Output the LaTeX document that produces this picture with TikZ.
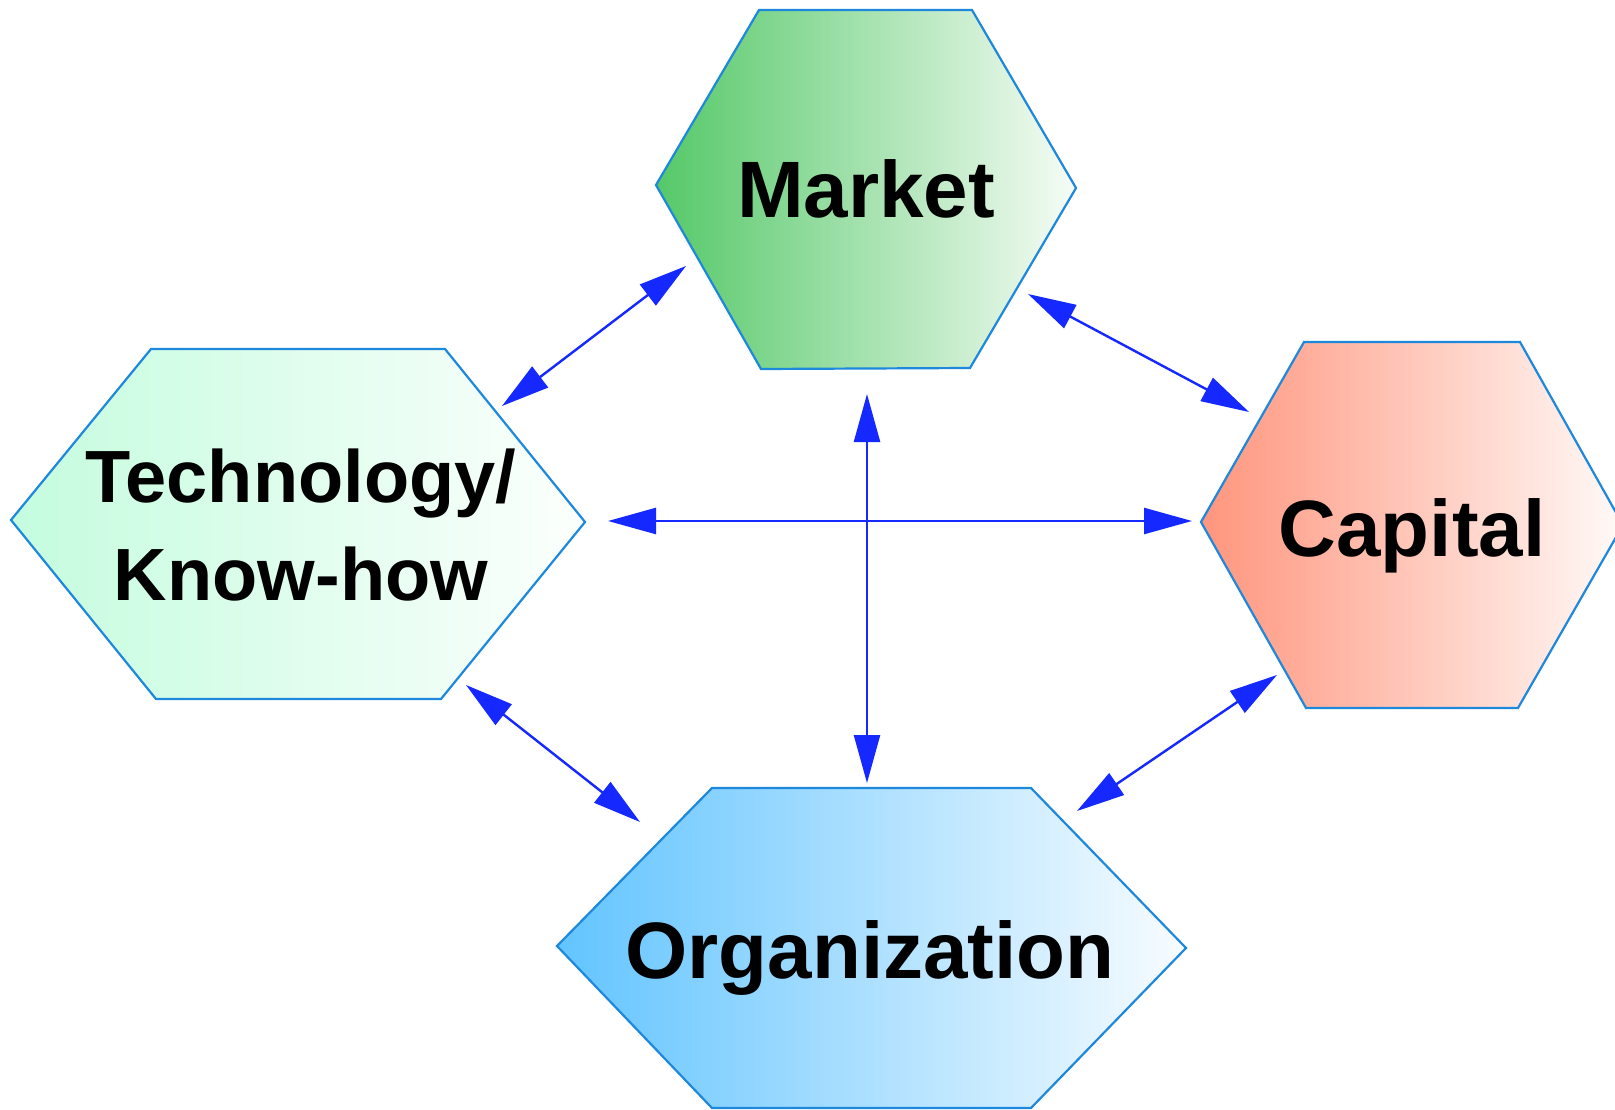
\documentclass[tikz,border=0pt]{standalone}
\usepackage{fontspec}
\setmainfont{Liberation Sans}
\usetikzlibrary{arrows.meta}
\definecolor{hexline}{HTML}{1E88DC}
\definecolor{arrowblue}{HTML}{1428FF}
\definecolor{mkL}{HTML}{55C868}
\definecolor{mkR}{HTML}{F6FCF6}
\definecolor{cpL}{HTML}{FF957D}
\definecolor{cpR}{HTML}{FFFAF8}
\definecolor{orL}{HTML}{62C4FF}
\definecolor{orR}{HTML}{F8FCFF}
\definecolor{teL}{HTML}{C4FCDE}
\definecolor{teR}{HTML}{FCFFFD}
\tikzset{
  hexagon/.style={draw=hexline, line width=2.2pt, line join=miter},
  lbl/.style={font=\bfseries\fontsize{80}{96}\selectfont, inner sep=0pt, anchor=base},
  link/.style={draw=arrowblue, line width=2.4pt, {Triangle[length=48pt,width=26pt]}-{Triangle[length=48pt,width=26pt]}}
}
\begin{document}
\begin{tikzpicture}[x=1pt,y=-1pt]
\clip (0,0) rectangle (1615,1110);
\fill[white] (0,0) rectangle (1615,1110);
% hexagons
\path[hexagon, left color=mkL, right color=mkR] (759,10) -- (972,10) -- (1076,188) -- (970,368) -- (761,369) -- (656,185) -- cycle;
\path[hexagon, left color=cpL, right color=cpR] (1304,342) -- (1520,342) -- (1623,525) -- (1518,708) -- (1306,708) -- (1201,522) -- cycle;
\path[hexagon, left color=orL, right color=orR] (712,788) -- (1031,788) -- (1186,948) -- (1031,1108) -- (712,1108) -- (557,946) -- cycle;
\path[hexagon, left color=teL, right color=teR] (151,349) -- (445,349) -- (585,522) -- (441,699) -- (156,699) -- (11,520) -- cycle;
% labels
\node[lbl] (market) at (866,218) {Market};
\node[lbl] (capital) at (1412,556) {Capital};
\node[lbl] (organization) at (870,978) {Organization};
\node[lbl, font=\bfseries\fontsize{74}{98}\selectfont, align=center] (technology) at (301,600) {Technology/\\Know-how};
% connector ends
\coordinate (tmA) at (502,406);
\coordinate (tmB) at (686,266);
\coordinate (mcA) at (1028,294);
\coordinate (mcB) at (1249,412);
\coordinate (tcA) at (608,521);
\coordinate (tcB) at (1192,521);
\coordinate (moA) at (867,394);
\coordinate (moB) at (867,783);
\coordinate (toA) at (466,685);
\coordinate (toB) at (640,822);
\coordinate (coA) at (1277,675);
\coordinate (coB) at (1077,811);
% connectors
\draw[link] (tmA) -- (tmB);
\draw[link] (mcA) -- (mcB);
\draw[link] (tcA) -- (tcB);
\draw[link] (moA) -- (moB);
\draw[link] (toA) -- (toB);
\draw[link] (coA) -- (coB);
\end{tikzpicture}
\end{document}
